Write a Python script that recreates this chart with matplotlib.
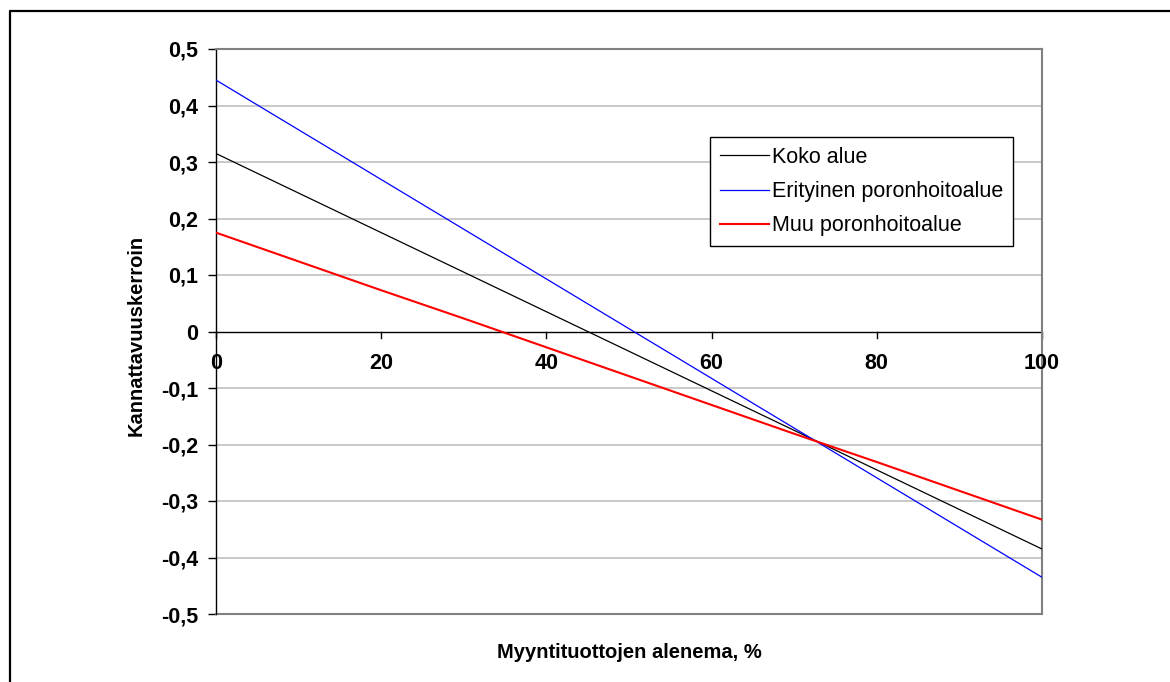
import matplotlib
matplotlib.use("Agg")
import matplotlib.pyplot as plt
from matplotlib.lines import Line2D

plt.rcParams['font.family'] = ['Liberation Sans', 'DejaVu Sans']

# myyntituottojen alenema, %
x = [0, 10, 20, 30, 40, 50, 60, 70, 80, 90, 100]
koko = [0.315, 0.245, 0.175, 0.105, 0.035, -0.035, -0.105, -0.175, -0.245, -0.315, -0.385]
erityinen = [0.445, 0.357, 0.269, 0.181, 0.093, 0.005, -0.083, -0.171, -0.259, -0.347, -0.435]
muu = [0.175, 0.124, 0.073, 0.023, -0.028, -0.079, -0.130, -0.181, -0.231, -0.282, -0.333]
labels = ["Koko alue", "Erityinen poronhoitoalue", "Muu poronhoitoalue"]

yticks = [-0.5, -0.4, -0.3, -0.2, -0.1, 0, 0.1, 0.2, 0.3, 0.4, 0.5]
xticks = [0, 20, 40, 60, 80, 100]

fig = plt.figure(figsize=(11.7, 6.82), dpi=100)
ax = fig.add_axes([216/1170, 1 - 614/682, 826/1170, 565/682])

for yv in yticks[1:-1]:
    if yv != 0:
        ax.axhline(yv, color='#c0c0c0', lw=1.2, zorder=1)

ax.plot(x, koko, color='black', lw=0.9, label=labels[0], zorder=3)
ax.plot(x, erityinen, color='#0000ff', lw=0.9, label=labels[1], zorder=3)
ax.plot(x, muu, color='#ff0000', lw=1.5, label=labels[2], zorder=3)

ax.set_xlim(0, 100)
ax.set_ylim(-0.5, 0.5)

# x-akseli nollakohdassa
ax.spines['bottom'].set_visible(False)
ax.spines['top'].set_color('#808080')
ax.spines['top'].set_linewidth(1.5)
ax.spines['right'].set_color('#808080')
ax.spines['right'].set_linewidth(1.5)
ax.spines['left'].set_color('black')
ax.spines['left'].set_linewidth(1.0)
ax.axhline(0, color='black', lw=1.0, zorder=2)
ax.add_artist(Line2D([0, 1], [0, 0], transform=ax.transAxes, color='#808080', lw=1.5, clip_on=False))

ax.set_yticks(yticks)
ax.set_yticklabels([('%.1f' % v).replace('.', ',') if v != 0 else '0' for v in yticks],
                   fontsize=15.5, fontweight='bold')
ax.tick_params(axis='y', direction='out', length=6, width=1, pad=7)
ax.set_xticks([])

for xv in xticks:
    ax.plot([xv, xv], [0, -0.011], color='black', lw=1, clip_on=False, zorder=2)
    ax.text(xv, -0.057, str(xv), ha='center', va='center', fontsize=15.5, fontweight='bold')

ax.text(0.5, -0.068, "Myyntituottojen alenema, %", transform=ax.transAxes,
        ha='center', va='center', fontsize=14.5, fontweight='bold')
fig.text(136/1170, 1 - 335/682, "Kannattavuuskerroin", rotation=90,
         ha='center', va='center', fontsize=14.5, fontweight='bold')

leg = ax.legend(loc='upper left', bbox_to_anchor=(494/826, 1 - (137 - 49)/565),
                fontsize=15.5, frameon=True, fancybox=False, framealpha=1,
                edgecolor='black', handlelength=2.3, handletextpad=0.15,
                borderpad=0.45, labelspacing=0.62, borderaxespad=0)
leg.get_frame().set_linewidth(1.0)

# kehys
fig.add_artist(Line2D([9.5/1170, 9.5/1170, 1], [0, 1 - 10.5/682, 1 - 10.5/682],
                      transform=fig.transFigure, color='black', lw=1.6))

fig.savefig("out.png", dpi=100)
